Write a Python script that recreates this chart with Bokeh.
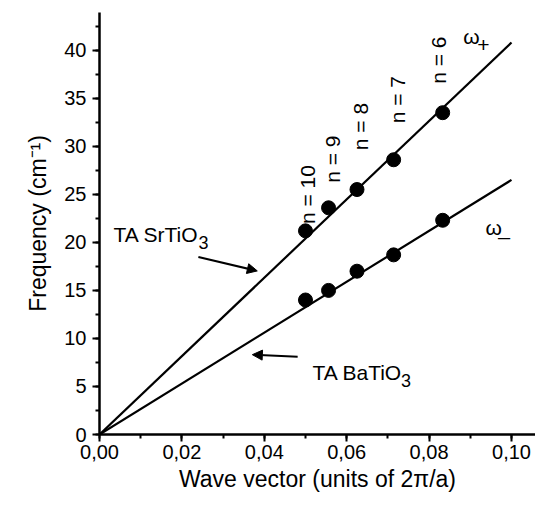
from bokeh.plotting import figure
from bokeh.models import (Range1d, SingleIntervalTicker, CustomJSTickFormatter,
                          Arrow, NormalHead)
from bokeh.core.properties import value
from bokeh.embed import file_html
from bokeh.resources import INLINE
import math

# ---- data ----
n_labels = ["n = 10", "n = 9", "n = 8", "n = 7", "n = 6"]
wave_vector = [0.05, 0.0556, 0.0625, 0.0714, 0.0833]
omega_plus = [21.2, 23.6, 25.5, 28.6, 33.5]
omega_minus = [14.0, 15.0, 17.0, 18.7, 22.3]
line_x = [0.0, 0.10]
ta_srtio3 = [0.0, 40.8]
ta_batio3 = [0.0, 26.5]

FONT = "Liberation Sans"

p = figure(width=535, height=494, output_backend="svg", toolbar_location=None,
           x_range=Range1d(0, 0.10583), y_range=Range1d(0, 43.93),
           min_border_left=99, min_border_right=0, min_border_top=12,
           min_border_bottom=59)
p.outline_line_color = None
p.grid.visible = False
p.background_fill_color = "white"

for ax in (p.xaxis[0], p.yaxis[0]):
    ax.axis_line_width = 2.5
    ax.major_tick_line_width = 2
    ax.minor_tick_line_width = 2
    ax.major_tick_out = 7
    ax.major_tick_in = 0
    ax.minor_tick_out = 4
    ax.minor_tick_in = 0
    ax.major_label_text_font = FONT
    ax.major_label_text_font_size = "20px"
    ax.major_label_text_color = "black"
    ax.axis_label_text_font = FONT
    ax.axis_label_text_font_size = "23px"
    ax.axis_label_text_font_style = "normal"
    ax.axis_label_text_color = "black"
    ax.axis_line_color = "black"

p.xaxis[0].ticker = SingleIntervalTicker(interval=0.02, num_minor_ticks=2)
p.yaxis[0].ticker = SingleIntervalTicker(interval=5, num_minor_ticks=2)
p.xaxis[0].formatter = CustomJSTickFormatter(code="return tick.toFixed(2).replace('.', ',');")
p.xaxis[0].axis_label = "Wave vector (units of 2π/a)"
p.yaxis[0].axis_label = "Frequency (cm⁻¹)"
p.xaxis[0].major_label_standoff = 3
p.yaxis[0].major_label_standoff = 6
p.xaxis[0].axis_label_standoff = 4
p.yaxis[0].axis_label_standoff = 10

p.line(line_x, ta_srtio3, line_color="black", line_width=2.2)
p.line(line_x, ta_batio3, line_color="black", line_width=2.2)
p.scatter(wave_vector, omega_plus, size=14, color="black")
p.scatter(wave_vector, omega_minus, size=14, color="black")

# rotated n labels
p.text(x=[0.0505, 0.0566, 0.0633, 0.0723, 0.0823],
       y=[21.9, 26.2, 29.6, 32.4, 36.5], text=n_labels,
       angle=math.pi / 2, text_align="left", text_baseline="middle",
       text_font=value(FONT), text_font_size="21px", text_color="black")

# omega labels
p.text(x=[0.0883], y=[41.4], text=["ω"], text_font=value(FONT),
       text_font_size="21px", text_baseline="alphabetic")
p.text(x=[0.0917], y=[40.5], text=["+"], text_font=value(FONT),
       text_font_size="21px", text_baseline="alphabetic")
p.text(x=[0.0937], y=[21.5], text=["ω"], text_font=value(FONT),
       text_font_size="21px", text_baseline="alphabetic")
p.text(x=[0.0968], y=[21.5], text=["_"], text_font=value(FONT),
       text_font_size="21px", text_baseline="alphabetic")

# TA labels
p.text(x=[0.0034], y=[20.77], text=["TA SrTiO"], text_font=value(FONT),
       text_font_size="21px", text_baseline="alphabetic")
p.text(x=[0.0240], y=[19.94], text=["3"], text_font=value(FONT),
       text_font_size="18px", text_baseline="alphabetic")
p.text(x=[0.0517], y=[6.44], text=["TA BaTiO"], text_font=value(FONT),
       text_font_size="21px", text_baseline="alphabetic")
p.text(x=[0.0732], y=[5.6], text=["3"], text_font=value(FONT),
       text_font_size="18px", text_baseline="alphabetic")

p.add_layout(Arrow(end=NormalHead(size=10, fill_color="black", line_color="black"),
                   x_start=0.0240, y_start=18.48, x_end=0.0383, y_end=17.03,
                   line_width=2, line_color="black"))
p.add_layout(Arrow(end=NormalHead(size=10, fill_color="black", line_color="black"),
                   x_start=0.0481, y_start=8.1, x_end=0.0371, y_end=8.31,
                   line_width=2, line_color="black"))

open("out.html", "w").write(file_html(p, INLINE))
